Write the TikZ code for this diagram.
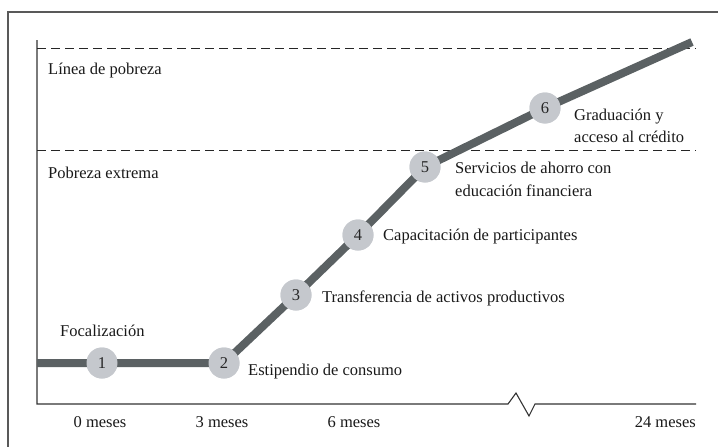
\documentclass[tikz,border=0pt]{standalone}
\usepackage{fontspec}
\setmainfont{Liberation Serif}
\begin{document}
\begin{tikzpicture}[x=1pt,y=-1pt,
  lbl/.style={font=\fontsize{16.5}{20}\selectfont, inner sep=0pt, text=black!90},
  stepdot/.style={circle, fill=circfill, minimum size=31pt, inner sep=0pt, font=\fontsize{16.5}{20}\selectfont, text=black!85},
  track/.style={line width=8pt, draw=trackgray},
  axisline/.style={line width=1.1pt, draw=black!80},
  dash line/.style={line width=1pt, draw=black!85, dash pattern=on 9pt off 5pt}]
\definecolor{circfill}{HTML}{C5C8CD}
\definecolor{trackgray}{HTML}{5B6163}
\useasboundingbox (0,0) rectangle (718,447);
% frame
\draw[line width=1.2pt, draw=black!65] (8,447) -- (8,12) -- (718,12);
% axes
\coordinate (ytop) at (37,40);
\coordinate (orig) at (37,404);
\coordinate (z1) at (508,404);
\coordinate (z2) at (516,393);
\coordinate (z3) at (529,416);
\coordinate (z4) at (535,404);
\coordinate (xend) at (696,404);
\draw[axisline] (ytop) -- (orig) -- (z1) -- (z2) -- (z3) -- (z4) -- (xend);
% dashed lines
\coordinate (d1a) at (37,48); \coordinate (d1b) at (696,48);
\coordinate (d2a) at (37,150); \coordinate (d2b) at (696,150);
\draw[dash line] (d1a) -- (d1b);
\draw[dash line] (d2a) -- (d2b);
\node[lbl, anchor=base west] (lp) at (48,74) {Línea de pobreza};
\node[lbl, anchor=base west] (pe) at (48,178) {Pobreza extrema};
% track
\coordinate (tstart) at (37,363);
\coordinate (tend) at (692,42);
\node[stepdot] (s1) at (102,363) {};
\node[stepdot] (s2) at (224,363) {};
\node[stepdot] (s3) at (296,295) {};
\node[stepdot] (s4) at (358,235) {};
\node[stepdot] (s5) at (425,167) {};
\node[stepdot] (s6) at (545,108) {};
\draw[track] (tstart) -- (s1.center) -- (s2.center) -- (s3.center) -- (s4.center) -- (s5.center) -- (s6.center) -- (tend);
\foreach \n in {1,...,6} {\node[stepdot] at (s\n) {\n};}
% step labels
\node[lbl, anchor=base west] (l1) at (60,336) {Focalización};
\node[lbl, anchor=base west] (l2) at (248,375) {Estipendio de consumo};
\node[lbl, anchor=base west] (l3) at (322,302) {Transferencia de activos productivos};
\node[lbl, anchor=base west] (l4) at (383,240) {Capacitación de participantes};
\node[lbl, anchor=base west, align=left] (l5) at (455,173) {Servicios de ahorro con};
\node[lbl, anchor=base west] (l5b) at (455,196) {educación financiera};
\node[lbl, anchor=base west] (l6) at (574,120) {Graduación y};
\node[lbl, anchor=base west] (l6b) at (574,142) {acceso al crédito};
% axis labels
\node[lbl, anchor=base] (m0) at (100,427) {0 meses};
\node[lbl, anchor=base] (m3) at (222,427) {3 meses};
\node[lbl, anchor=base] (m6) at (354,427) {6 meses};
\node[lbl, anchor=base east] (m24) at (696,427) {24 meses};
\end{tikzpicture}
\end{document}
